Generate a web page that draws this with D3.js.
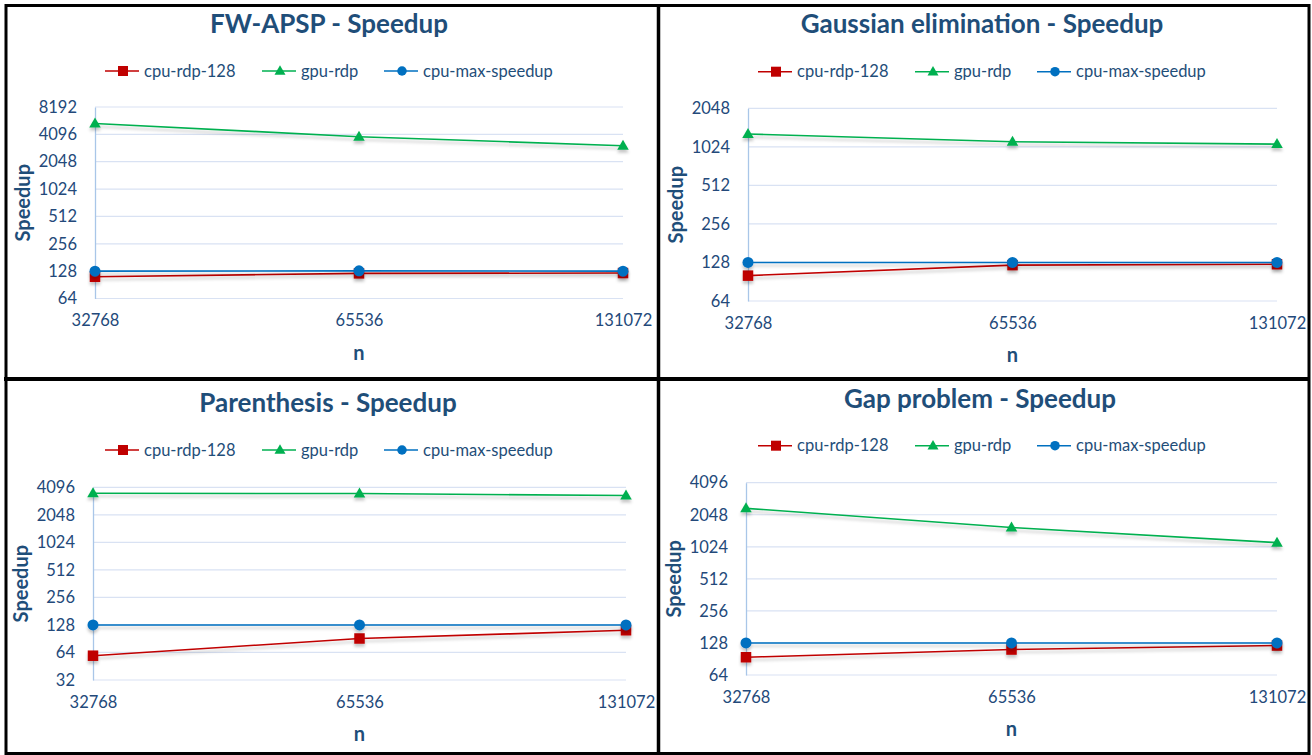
<!DOCTYPE html>
<html><head><meta charset="utf-8">
<script src="https://cdn.jsdelivr.net/npm/d3@7"></script>
<style>
html,body{margin:0;padding:0;background:#fff;}
svg{display:block;font-family:Lato,"Open Sans",sans-serif;}
</style></head>
<body>
<svg id="chart" width="1312" height="755"></svg>
<script>
// ---- data ----
const categories = [32768, 65536, 131072];
const seriesNames = ["cpu-rdp-128", "gpu-rdp", "cpu-max-speedup"];
const titles = ["FW-APSP - Speedup", "Gaussian elimination - Speedup", "Parenthesis - Speedup", "Gap problem - Speedup"];

const fwCpuRdp = [111, 121, 122];
const fwGpuRdp = [5400, 3860, 3070];
const fwCpuMax = [128, 129, 128];
const fwTicks = [64, 128, 256, 512, 1024, 2048, 4096, 8192];

const geCpuRdp = [101, 122, 124];
const geGpuRdp = [1290, 1123, 1076];
const geCpuMax = [128, 128, 128];
const geTicks = [64, 128, 256, 512, 1024, 2048];

const parCpuRdp = [59, 91, 112];
const parGpuRdp = [3520, 3500, 3330];
const parCpuMax = [128, 128, 128];
const parTicks = [32, 64, 128, 256, 512, 1024, 2048, 4096];

const gapCpuRdp = [94, 111, 121];
const gapGpuRdp = [2353, 1552, 1120];
const gapCpuMax = [128, 128, 128];
const gapTicks = [64, 128, 256, 512, 1024, 2048, 4096];

// ---- layout ----
const layouts = [
  {fx: 7,   left: 95,  right: 623,  top: 107,   bottom: 298.5, titleX: 329, titleY: 33,  legY: 71},
  {fx: 660, left: 748, right: 1277, top: 108.3, bottom: 301,   titleX: 982, titleY: 33,  legY: 71.7},
  {fx: 7,   left: 93,  right: 626,  top: 487.3, bottom: 680,   titleX: 328, titleY: 412, legY: 450},
  {fx: 660, left: 746, right: 1277, top: 482.7, bottom: 675,   titleX: 980, titleY: 408, legY: 445.7}
];
const panelData = [
  [fwCpuRdp, fwGpuRdp, fwCpuMax, fwTicks],
  [geCpuRdp, geGpuRdp, geCpuMax, geTicks],
  [parCpuRdp, parGpuRdp, parCpuMax, parTicks],
  [gapCpuRdp, gapGpuRdp, gapCpuMax, gapTicks]
];
const colors = ["#C00000", "#00B050", "#0070C0"];
const markers = ["square", "triangle", "circle"];
const textCol = "#1F4E79";
const tickCol = "#23497A";

const svg = d3.select("#chart");
const defs = svg.append("defs");
const f = defs.append("filter").attr("id", "sh").attr("x", "-20%").attr("y", "-100%").attr("width", "140%").attr("height", "300%");
f.append("feDropShadow").attr("dx", 0).attr("dy", 3).attr("stdDeviation", 1.6).attr("flood-color", "#000").attr("flood-opacity", 0.22);

function drawMarker(g, type, x, y, color, s) {
  if (type === "square") {
    g.append("rect").attr("x", x - s / 2).attr("y", y - s / 2).attr("width", s).attr("height", s).attr("fill", color);
  } else if (type === "triangle") {
    const w = s * 1.1, h = s * 0.95;
    g.append("path").attr("d", `M${x},${y - h * 0.6}L${x + w / 2},${y + h * 0.4}L${x - w / 2},${y + h * 0.4}Z`).attr("fill", color);
  } else {
    g.append("circle").attr("cx", x).attr("cy", y).attr("r", s / 2).attr("fill", color);
  }
}

layouts.forEach((L, i) => {
  const [cpuRdp, gpuRdp, cpuMax, ticks] = panelData[i];
  const series = [cpuRdp, gpuRdp, cpuMax];
  const g = svg.append("g");
  const x = d3.scalePoint().domain(categories).range([L.left, L.right]).padding(0);
  const y = d3.scaleLog().base(2).domain([ticks[0], ticks[ticks.length - 1]]).range([L.bottom, L.top]);

  // gridlines
  g.append("g").selectAll("line").data(ticks).join("line")
    .attr("x1", L.left).attr("x2", L.right)
    .attr("y1", d => y(d)).attr("y2", d => y(d))
    .attr("stroke", "#D9E2F3").attr("stroke-width", 1.2);

  // y axis
  const ya = g.append("g").attr("transform", `translate(${L.left},0)`)
    .call(d3.axisLeft(y).tickValues(ticks).tickFormat(d3.format("d")).tickSize(0).tickPadding(18));
  ya.select(".domain").attr("stroke", "#A9C6E8").attr("stroke-width", 1.3);
  ya.selectAll("text").attr("fill", tickCol).style("font-size", "16.5px").style("font-family", "Lato");

  // x axis labels
  const xa = g.append("g").attr("transform", `translate(0,${L.bottom})`)
    .call(d3.axisBottom(x).tickSize(0).tickPadding(16).tickFormat(d3.format("d")));
  xa.select(".domain").remove();
  xa.selectAll("text").attr("fill", tickCol).style("font-size", "16.5px").style("font-family", "Lato");

  // axis titles
  g.append("text").attr("x", (L.left + L.right) / 2).attr("y", L.bottom + 61)
    .attr("text-anchor", "middle").attr("fill", textCol).style("font-weight", "bold").style("font-size", "20px").text("n");
  g.append("text").attr("transform", `translate(${L.left - 65},${(L.top + L.bottom) / 2}) rotate(-90)`)
    .attr("text-anchor", "middle").attr("fill", textCol).style("font-weight", "bold").style("font-size", "20px").text("Speedup");

  // title
  g.append("text").attr("x", L.titleX).attr("y", L.titleY).attr("text-anchor", "middle")
    .attr("fill", textCol).style("font-weight", "bold").style("font-size", "26px").text(titles[i]);

  // series
  const line = d3.line().x((d, j) => x(categories[j])).y(d => y(d));
  series.forEach((vals, k) => {
    const sg = g.append("g").attr("filter", "url(#sh)");
    sg.append("path").attr("d", line(vals)).attr("fill", "none").attr("stroke", colors[k]).attr("stroke-width", 1.6);
    vals.forEach((v, j) => drawMarker(sg, markers[k], x(categories[j]), y(v), colors[k], markers[k] === "circle" ? 11 : 10.5));
  });

  // legend
  const offs = [0, 157, 279];
  const lx0 = L.fx + 98;
  seriesNames.forEach((name, k) => {
    const lg = g.append("g");
    const sx = lx0 + offs[k];
    lg.append("line").attr("x1", sx).attr("x2", sx + 34).attr("y1", L.legY).attr("y2", L.legY)
      .attr("stroke", colors[k]).attr("stroke-width", 1.6);
    drawMarker(lg, markers[k], sx + 18, L.legY, colors[k], markers[k] === "circle" ? 9.5 : 10);
    lg.append("text").attr("x", sx + 39).attr("y", L.legY).attr("dy", "0.35em")
      .attr("fill", textCol).style("font-size", "16.5px").text(name);
  });
});

// panel frames
svg.append("rect").attr("x", 6).attr("y", 5.5).attr("width", 1303).attr("height", 748)
  .attr("fill", "none").attr("stroke", "#000").attr("stroke-width", 3);
svg.append("line").attr("x1", 658.5).attr("x2", 658.5).attr("y1", 4).attr("y2", 755)
  .attr("stroke", "#000").attr("stroke-width", 3.5);
svg.append("line").attr("x1", 4).attr("x2", 1310).attr("y1", 379).attr("y2", 379)
  .attr("stroke", "#000").attr("stroke-width", 4);
</script>
</body></html>
